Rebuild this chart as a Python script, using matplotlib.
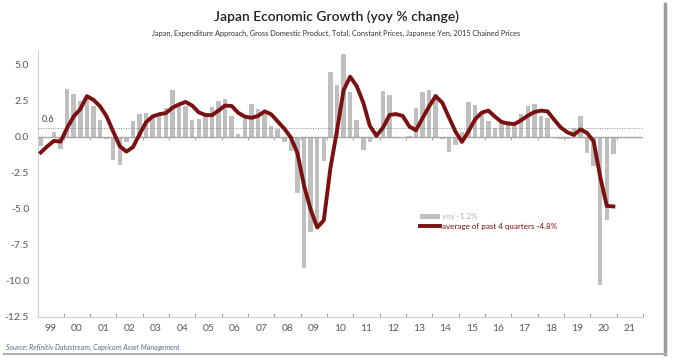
import numpy as np
import matplotlib
matplotlib.use('Agg')
from matplotlib import pyplot as plt
from matplotlib.patches import Patch
from matplotlib.lines import Line2D

plt.rcParams['font.family'] = ['Lato', 'DejaVu Sans']

# quarterly real GDP, yoy % change, 1999Q1 .. 2020Q4
yoy = [-0.65, -0.1, 0.3, -0.85,
       3.3, 2.95, 2.45, 2.6,
       2.1, 1.15, -0.2, -1.65,
       -1.95, -0.35, 1.05, 1.55,
       1.65, 1.3, 1.55, 2.0,
       3.2, 2.2, 2.1, 1.15,
       1.2, 1.4, 2.05, 2.45,
       2.6, 1.4, 0.2, 1.25,
       2.25, 1.9, 1.55, 0.7,
       0.5, -0.35, -1.0, -3.9,
       -9.1, -6.6, -6.0, -1.7,
       4.5, 3.55, 5.7, 3.1,
       1.15, -0.9, -0.35, 0.3,
       3.15, 2.85, -0.1, -0.1,
       0.05, 1.95, 3.1, 3.2,
       2.95, -0.15, -1.1, -0.55,
       0.35, 2.4, 2.2, 1.6,
       1.05, 0.6, 1.1, 1.05,
       0.7, 1.55, 2.15, 2.25,
       1.45, 1.3, -0.1, -0.2,
       -0.15, 0.6, 1.4, -1.15,
       -2.05, -10.3, -5.8, -1.2]

# average of past 4 quarters
avg4 = [-1.1, -0.67, -0.3, -0.35,
        0.6, 1.4, 1.9, 2.8,
        2.55, 2.1, 1.4, 0.35,
        -0.66, -1.04, -0.73, 0.15,
        1.0, 1.4, 1.55, 1.63,
        2.0, 2.23, 2.4, 2.15,
        1.68, 1.5, 1.48, 1.8,
        2.15, 2.12, 1.65, 1.38,
        1.3, 1.43, 1.75, 1.55,
        1.05, 0.55, -0.06, -1.16,
        -3.4, -5.05, -6.3, -5.8,
        -2.2, 0.4, 3.2, 4.15,
        3.5, 2.35, 0.74, 0.06,
        0.62, 1.5, 1.56, 1.43,
        0.7, 0.44, 1.27, 2.09,
        2.8, 2.35, 1.35, 0.35,
        -0.37, 0.38, 1.2, 1.66,
        1.8, 1.38, 1.02, 0.9,
        0.87, 1.14, 1.45, 1.7,
        1.8, 1.75, 1.17, 0.63,
        0.3, 0.12, 0.5, 0.25,
        -0.32, -2.8, -4.8, -4.84]

first_year = 1999
last_year = 2021
year_labels = ['99', '00', '01', '02', '03', '04', '05', '06', '07', '08', '09',
               '10', '11', '12', '13', '14', '15', '16', '17', '18', '19', '20', '21']
ref_level = 0.6
yticks = [5.0, 2.5, 0.0, -2.5, -5.0, -7.5, -10.0, -12.5]

bar_col = '#bfbfbf'
line_col = '#7a1010'
axis_col = '#a6a6a6'
text_col = '#595959'

W, H = 673, 360
fig = plt.figure(figsize=(W / 100, H / 100), dpi=100)
ax = fig.add_axes([37.5 / W, (H - 317) / H, (643 - 37.5) / W, (317 - 50) / H])

x = first_year + 0.125 + np.arange(len(yoy)) / 4.0
ax.bar(x, yoy, width=0.17, color=bar_col, zorder=2)
ax.plot(x, avg4, color=line_col, lw=2.8, solid_joinstyle='round', zorder=4)

ax.axhline(0, color=axis_col, lw=1.0, zorder=3)
ax.vlines(range(first_year + 1, last_year + 1), -0.22, 0, color=axis_col, lw=0.8, zorder=3)
ax.axhline(ref_level, color='#8c8c8c', lw=0.7, ls=(0, (1, 1.5)), zorder=3)
ax.text(first_year + 0.15, ref_level + 0.25, '0.6', fontsize=6.5, color='#404040',
        ha='left', va='bottom')

ax.set_xlim(first_year, last_year + 1)
ax.set_ylim(-12.5, 6.0)
ax.set_yticks(yticks)
ax.set_yticklabels(['%.1f' % v for v in yticks])
ax.set_xticks(range(first_year, last_year + 2))
ax.set_xticklabels([])
ax.set_xticks(np.arange(first_year, last_year + 1) + 0.5, minor=True)
ax.set_xticklabels(year_labels, minor=True)
ax.tick_params(axis='x', which='major', direction='in', length=3, color=axis_col, width=0.8)
ax.tick_params(axis='x', which='minor', length=0, pad=5, labelsize=7.5, labelcolor=text_col)
ax.tick_params(axis='y', length=0, pad=6, labelsize=7.5, labelcolor=text_col)

for s in ['top', 'right']:
    ax.spines[s].set_visible(False)
for s in ['left', 'bottom']:
    ax.spines[s].set_color('#d0d0d0')
    ax.spines[s].set_linewidth(0.8)

handles = [Patch(facecolor=bar_col, edgecolor='none'),
           Line2D([0], [0], color=line_col, lw=2.8)]
labels = ['yoy -1.2%', 'average of past 4 quarters -4.8%']
leg = ax.legend(handles, labels, loc='upper left', bbox_to_anchor=(413 / W, 1 - 206 / H),
                bbox_transform=fig.transFigure, frameon=False, fontsize=5.8,
                handlelength=2.4, handleheight=0.7, handletextpad=0.3, labelspacing=0.35)
leg.get_texts()[0].set_color('#b0b0b0')
leg.get_texts()[1].set_color(line_col)

fig.text(0.5, 1 - 17 / H, 'Japan Economic Growth (yoy % change)', ha='center', va='center',
         fontsize=10, color='#222222', weight='semibold')
fig.text(0.5, 1 - 33 / H, 'Japan, Expenditure Approach, Gross Domestic Product, Total, Constant Prices, '
         'Japanese Yen, 2015 Chained Prices', ha='center', va='center', fontsize=5.3, color='#333333')
fig.text(6 / W, 1 - 347 / H, 'Source: Refinitiv Datastream, Capricorn Asset Management',
         ha='left', va='center', fontsize=5, style='italic', color='#5a6a8a')

# frame shadow on the right and bottom
fig.add_artist(Line2D([665 / W, 665 / W], [1 - 4 / H, 1 - 354 / H], transform=fig.transFigure,
                      color='#9a9a9a', lw=2.5))
fig.add_artist(Line2D([4 / W, 665 / W], [1 - 354 / H, 1 - 354 / H], transform=fig.transFigure,
                      color='#b0b0b0', lw=1.5))

fig.savefig('out.png', dpi=100)
